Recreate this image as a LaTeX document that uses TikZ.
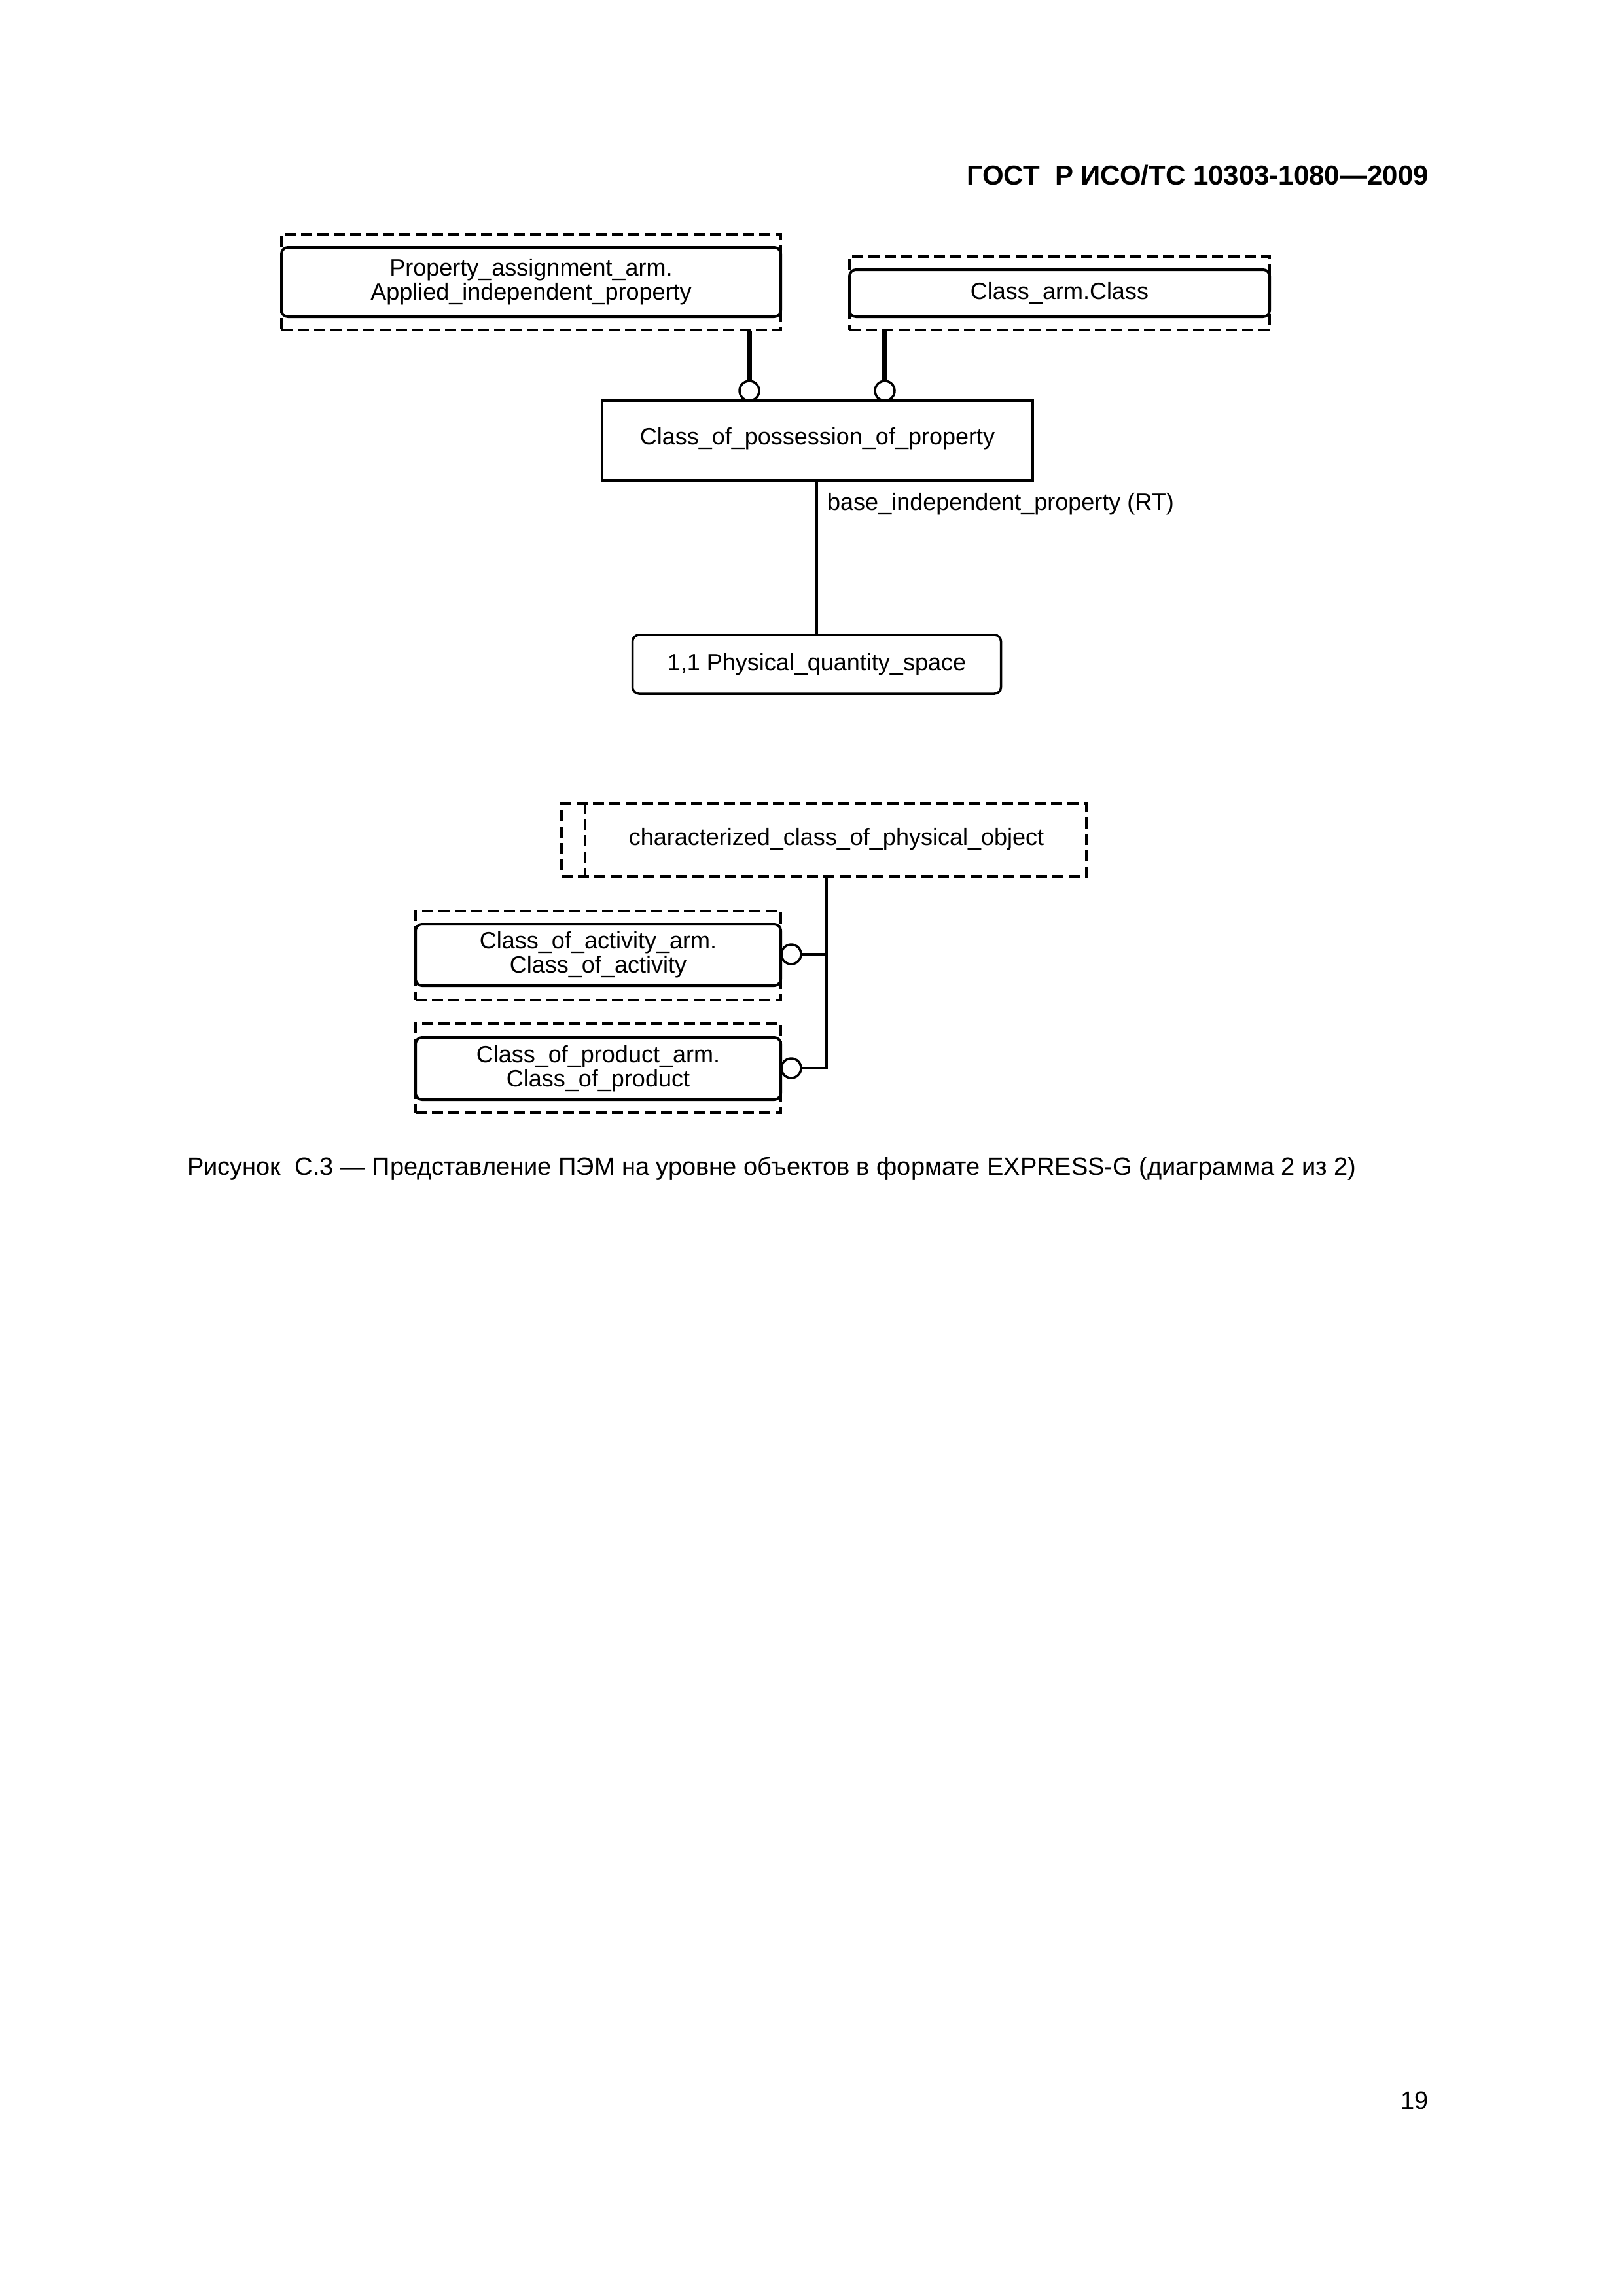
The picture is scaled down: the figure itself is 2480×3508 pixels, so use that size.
\documentclass[tikz,border=0pt]{standalone}
\usepackage{fontspec}
\setmainfont{Liberation Sans}
\begin{document}
\begin{tikzpicture}[x=1pt,y=-1pt,
  txt/.style={font=\fontsize{36}{37}\selectfont, align=center, inner sep=0pt},
  dashedbox/.style={draw, line width=3.5pt, dash pattern=on 17pt off 8pt, minimum width=#1, inner sep=0pt},
  inbox/.style={draw, line width=4pt, rounded corners=10pt, fill=white, inner sep=0pt},
  plainbox/.style={draw, line width=3.5pt, inner sep=0pt},
  ocircle/.style={circle, draw, line width=3.5pt, fill=white, minimum size=30pt, inner sep=0pt},
  thickline/.style={line width=8pt},
  thinline/.style={line width=3.5pt}
]
\useasboundingbox (0,0) rectangle (2480,3508);

% header
\node[anchor=base east, inner sep=0pt, font=\fontsize{42}{48}\selectfont\bfseries] (hdr) at (2183,283) {ГОСТ\ \ Р ИСО/ТС 10303-1080—2009};

% upper part
\node[dashedbox=763pt, minimum height=146pt] (paout) at (811.5,431) {};
\node[inbox, minimum width=763pt, minimum height=106pt, txt] (pa) at (811.5,431) {Property\_assignment\_arm.\\Applied\_independent\_property};

\node[dashedbox=642pt, minimum height=112pt] (caout) at (1619,448) {};
\node[inbox, minimum width=642pt, minimum height=72pt, txt] (ca) at (1619,448) {Class\_arm.Class};

\node[plainbox, minimum width=658pt, minimum height=122pt] (cpp) at (1249,673) {};
\node[txt] (cpptxt) at (1249,670) {Class\_of\_possession\_of\_property};

\node[ocircle] (c1) at (1145,597) {};
\node[ocircle] (c2) at (1352,597) {};
\draw[thickline] (c1.north) -- (c1 |- paout.south);
\draw[thickline] (c2.north) -- (c2 |- caout.south);

\node[inbox, line width=3.5pt, minimum width=563pt, minimum height=90pt, txt] (pqs) at (1248,1015) {1,1 Physical\_quantity\_space};
\draw[thinline] (cpp.south -| pqs.north) -- (pqs.north);
\node[txt, anchor=west] (lbl) at (1264,770) {base\_independent\_property (RT)};

% lower part
\node[dashedbox=802pt, minimum height=111pt] (ccpo) at (1259,1283.5) {};
\coordinate (ccpoA) at ([xshift=38pt]ccpo.north west);
\coordinate (ccpoB) at ([xshift=38pt]ccpo.south west);
\draw[line width=3.5pt, dash pattern=on 17pt off 8pt] (ccpoA) -- (ccpoB);
\node[txt] (ccpotxt) at (1278,1282) {characterized\_class\_of\_physical\_object};

\node[dashedbox=558pt, minimum height=136pt] (coaout) at (914,1460) {};
\node[inbox, minimum width=558pt, minimum height=94pt, txt] (coa) at (914,1459) {Class\_of\_activity\_arm.\\Class\_of\_activity};

\node[dashedbox=558pt, minimum height=136pt] (copout) at (914,1632) {};
\node[inbox, minimum width=558pt, minimum height=95pt, txt] (cop) at (914,1632.5) {Class\_of\_product\_arm.\\Class\_of\_product};

\node[ocircle] (c3) at (1209,1458) {};
\node[ocircle] (c4) at (1209,1632) {};
\coordinate (j3) at (1263,1458);
\coordinate (j4) at (1263,1632);
\draw[thinline] (c3.east) -- (j3);
\draw[thinline, line join=miter] (j4 |- ccpo.south) -- (j4) -- (c4.east);

% caption
\node[anchor=base west, inner sep=0pt, font=\fontsize{38}{44}\selectfont] (cap) at (286,1795) {Рисунок\ \ С.3 — Представление ПЭМ на уровне объектов в формате EXPRESS-G (диаграмма 2 из 2)};

% page number
\node[anchor=base east, inner sep=0pt, font=\fontsize{38}{44}\selectfont] (pg) at (2183,3222) {19};
\end{tikzpicture}
\end{document}
